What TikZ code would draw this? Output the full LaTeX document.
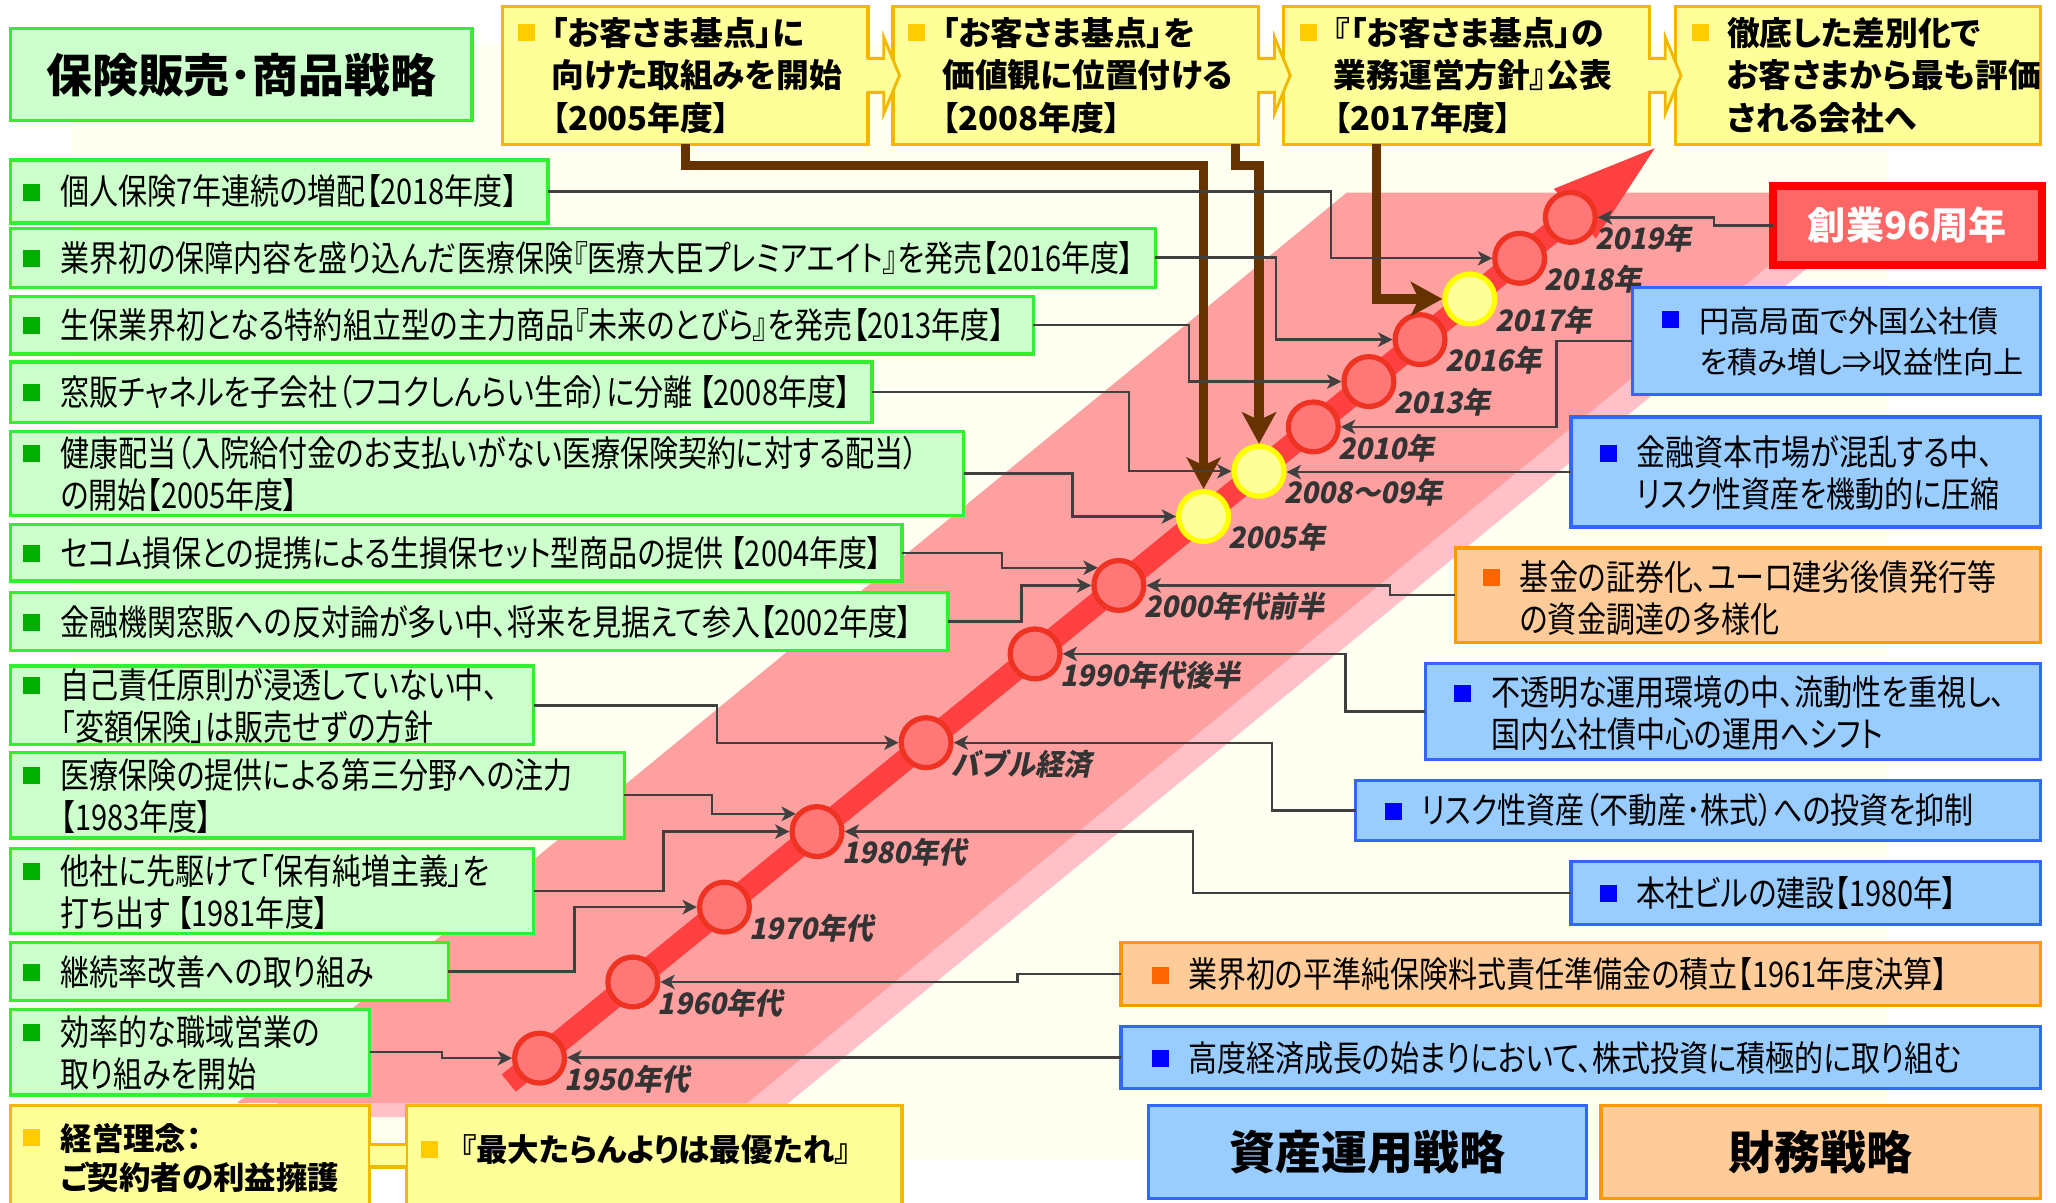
\documentclass[tikz,border=0pt]{standalone}
\usepackage{fontspec}
\usetikzlibrary{arrows.meta}
\newfontfamily\jp[FakeStretch=0.82,RawFeature=+palt]{Noto Sans CJK JP}
\newfontfamily\jpw[RawFeature=+palt]{Noto Sans CJK JP}
\newfontfamily\jpyr[FakeStretch=0.95,FakeSlant=0.2]{Noto Sans CJK JP}
\definecolor{gfill}{HTML}{CCFFCC}
\definecolor{gline}{HTML}{33EE33}
\definecolor{gbul}{HTML}{00B000}
\definecolor{yfill}{HTML}{FFFF99}
\definecolor{yline}{HTML}{F2B800}
\definecolor{ybul}{HTML}{FFCC00}
\definecolor{bfill}{HTML}{99CCFF}
\definecolor{bline}{HTML}{3366FF}
\definecolor{bbul}{HTML}{0000FF}
\definecolor{ofill}{HTML}{FFCC99}
\definecolor{oline}{HTML}{FF9900}
\definecolor{obul}{HTML}{FF6600}
\definecolor{rfill}{HTML}{FF6666}
\definecolor{rline}{HTML}{FF0000}
\definecolor{cgray}{HTML}{404040}
\definecolor{brownc}{HTML}{663300}
\definecolor{dotfill}{HTML}{FF7777}
\definecolor{dotline}{HTML}{EE3322}
\definecolor{ydotline}{HTML}{FFFF00}
\definecolor{arrowred}{HTML}{FF4040}
\definecolor{banddark}{HTML}{FFA0A0}
\definecolor{bandlight}{HTML}{FFC0C8}
\definecolor{cream}{HTML}{FFFFF2}
\definecolor{yrc}{HTML}{333333}
\newcommand\bul[1]{\textcolor{#1}{\rule[3.2pt]{13pt}{13pt}}}
\newcommand\mkbox[7]{\node[#1, minimum width={#5-#3}, minimum height={#6-#4}] (#2) at (#3,#4) {#7};}
\begin{document}
\begin{tikzpicture}[x=1pt,y=-1pt,
  panel/.style={draw, line width=2.5pt, inner sep=0pt, outer sep=0pt, anchor=north west},
  gbox/.style={panel, fill=gfill, draw=gline},
  ybox/.style={panel, fill=yfill, draw=yline},
  bbox/.style={panel, fill=bfill, draw=bline},
  obox/.style={panel, fill=ofill, draw=oline},
  rbox/.style={panel, fill=rfill, draw=rline, line width=6pt, text=white, font=\jpw\bfseries\fontsize{29}{29}\selectfont},
  ttl/.style={font=\jpw\bfseries\fontsize{35}{35}\selectfont, text=black},
  txt/.style={inner sep=0pt, anchor=base west, font=\jp\fontsize{27}{31}\selectfont},
  rtxt/.style={inner sep=0pt, anchor=base west, font=\jp\fontsize{27}{30}\selectfont},
  wtxt/.style={inner sep=0pt, anchor=base west, font=\jpw\fontsize{23}{31}\selectfont},
  ytxt/.style={inner sep=0pt, anchor=base west, font=\jpw\bfseries\fontsize{25}{32.5}\selectfont},
  ktxt/.style={inner sep=0pt, anchor=base west, font=\jpw\bfseries\fontsize{24}{30}\selectfont},
  conn/.style={draw=cgray, line width=1.8pt, -{Stealth[length=11pt,width=11pt,inset=3pt]}},
  brn/.style={draw=brownc, line width=7pt, -{Stealth[length=24pt,width=26pt,inset=6pt]}},
  dot/.style={circle, minimum size=38pt, inner sep=0pt, line width=4pt, draw=dotline, fill=dotfill},
  ydot/.style={dot, draw=ydotline, fill=yfill},
  yr/.style={anchor=west, inner sep=0pt, text=yrc, font=\jpyr\bfseries\fontsize{22.5}{22.5}\selectfont}
]
\useasboundingbox (0,0) rectangle (1568,917);
\clip (0,0) rectangle (1568,917);
\fill[white] (0,0) rectangle (1568,917);
\fill[cream] (55,33) rectangle (1440,885);
% band
\fill[bandlight] (1045,158) -- (1435,158) -- (588,852) -- (199,852) -- cycle;
\fill[banddark] (1027,147) -- (1417,147) -- (570,841) -- (181,841) -- cycle;
% timeline arrow
\coordinate (tstart) at (388,826);
\coordinate (tbase) at (1201,163);
\coordinate (ttip) at (1262,113);
\draw[arrowred, line width=17pt] (tstart) -- (tbase);
\fill[arrowred] (ttip) -- (1185,144) -- (1217,182) -- cycle;
% circles
\node[dot] (c1950) at (411.5,807) {};
\node[dot] (c1960) at (482.6,748.9) {};
\node[dot] (c1970) at (552.5,691.8) {};
\node[dot] (c1980) at (623.1,634.2) {};
\node[dot] (cbub) at (706.3,566.4) {};
\node[dot] (c1990) at (789.4,498.7) {};
\node[dot] (c2000) at (853.3,446.5) {};
\node[ydot] (c2005) at (917.9,393.9) {};
\node[ydot] (c2008) at (960.2,359.4) {};
\node[dot] (c2010) at (1001.6,325.6) {};
\node[dot] (c2013) at (1044,291) {};
\node[dot] (c2016) at (1083,259) {};
\node[ydot] (c2017) at (1121,228) {};
\node[dot] (c2018) at (1159,197) {};
\node[dot] (c2019) at (1197.6,165.8) {};
% year labels
\node[yr] (l1950) at ([shift={(19,16)}]c1950.center) {1950年代};
\node[yr] (l1960) at ([shift={(19,16)}]c1960.center) {1960年代};
\node[yr] (l1970) at ([shift={(19,16)}]c1970.center) {1970年代};
\node[yr] (l1980) at ([shift={(19,16)}]c1980.center) {1980年代};
\node[yr] (lbub) at ([shift={(19,16)}]cbub.center) {バブル経済};
\node[yr] (l1990) at ([shift={(19,16)}]c1990.center) {1990年代後半};
\node[yr] (l2000) at ([shift={(19,16)}]c2000.center) {2000年代前半};
\node[yr] (l2005) at ([shift={(19,16)}]c2005.center) {2005年};
\node[yr] (l2008) at ([shift={(19,16)}]c2008.center) {2008～09年};
\node[yr] (l2010) at ([shift={(19,16)}]c2010.center) {2010年};
\node[yr] (l2013) at ([shift={(19,16)}]c2013.center) {2013年};
\node[yr] (l2016) at ([shift={(19,16)}]c2016.center) {2016年};
\node[yr] (l2017) at ([shift={(19,16)}]c2017.center) {2017年};
\node[yr] (l2018) at ([shift={(19,16)}]c2018.center) {2018年};
\node[yr] (l2019) at ([shift={(19,16)}]c2019.center) {2019年};
% title boxes
\mkbox{gbox,ttl}{title}{8}{22}{360}{92}{保険販売･商品戦略}
\mkbox{bbox,ttl}{asset}{876}{843}{1210}{914}{資産運用戦略}
\mkbox{obox,ttl}{fin}{1221}{843}{1556}{914}{財務戦略}
\mkbox{rbox}{red}{1352}{142}{1557}{202}{創業96周年}
% top yellow boxes
\mkbox{ybox}{y1}{383}{5}{662}{110}{}
\mkbox{ybox}{y2}{681}{5}{960}{110}{}
\mkbox{ybox}{y3}{979}{5}{1258}{110}{}
\mkbox{ybox}{y4}{1278}{5}{1556}{110}{}
\foreach \b in {y1,y2,y3}{
  \fill[yfill] ([xshift=-2pt]\b.east) ++(0,-13) -- ++(14,0) -- ++(0,-16) -- ++(12,29) -- ++(-12,29) -- ++(0,-16) -- ++(-14,0) -- cycle;
  \draw[yline, line width=2.2pt] ([xshift=-1pt]\b.east) ++(0,-13) -- ++(13,0) -- ++(0,-16) -- ++(12,29) -- ++(-12,29) -- ++(0,-16) -- ++(-13,0);
}
\node[ytxt] (y1t) at (394.5,34.5) {\bul{ybul}\hspace{13pt}\begin{tabular}[t]{@{}l@{}}「お客さま基点」に\\向けた取組みを開始\\【2005年度】\end{tabular}};
\node[ytxt] (y2t) at (692.5,34.5) {\bul{ybul}\hspace{13pt}\begin{tabular}[t]{@{}l@{}}「お客さま基点」を\\価値観に位置付ける\\【2008年度】\end{tabular}};
\node[ytxt] (y3t) at (991,34.5) {\bul{ybul}\hspace{13pt}\begin{tabular}[t]{@{}l@{}}『「お客さま基点」の\\業務運営方針』公表\\【2017年度】\end{tabular}};
\node[ytxt] (y4t) at (1290,34.5) {\bul{ybul}\hspace{14pt}\begin{tabular}[t]{@{}l@{}}徹底した差別化で\\お客さまから最も評価\\される会社へ\end{tabular}};
% green boxes
\mkbox{gbox}{g1}{8}{122}{418}{170}{}
\mkbox{gbox}{g2}{8}{174}{881}{219}{}
\mkbox{gbox}{g3}{8}{226}{788}{270}{}
\mkbox{gbox}{g4}{8}{276}{665}{322}{}
\mkbox{gbox}{g5}{8}{329}{735}{393}{}
\mkbox{gbox}{g6}{8}{400}{688}{443}{}
\mkbox{gbox}{g7}{8}{452}{723}{496}{}
\mkbox{gbox}{g8}{8}{508}{407}{568}{}
\mkbox{gbox}{g9}{8}{574}{476}{639}{}
\mkbox{gbox}{g10}{8}{647}{407}{712}{}
\mkbox{gbox}{g11}{8}{719}{342}{763}{}
\mkbox{gbox}{g12}{8}{770}{282}{835}{}
\node[txt] (g1t) at (17,156.3) {\bul{gbul}\hspace{16pt}個人保険7年連続の増配【2018年度】};
\node[txt] (g2t) at (17,206.8) {\bul{gbul}\hspace{16pt}業界初の保障内容を盛り込んだ医療保険『医療大臣プレミアエイト』を発売【2016年度】};
\node[txt] (g3t) at (17,258.3) {\bul{gbul}\hspace{16pt}生保業界初となる特約組立型の主力商品『未来のとびら』を発売【2013年度】};
\node[txt] (g4t) at (17,309.3) {\bul{gbul}\hspace{16pt}窓販チャネルを子会社（フコクしんらい生命）に分離 【2008年度】};
\node[txt] (g5t) at (17,355.8) {\bul{gbul}\hspace{16pt}\begin{tabular}[t]{@{}l@{}}健康配当（入院給付金のお支払いがない医療保険契約に対する配当）\\の開始【2005年度】\end{tabular}};
\node[txt] (g6t) at (17,431.8) {\bul{gbul}\hspace{16pt}セコム損保との提携による生損保セット型商品の提供 【2004年度】};
\node[txt] (g7t) at (17,484.3) {\bul{gbul}\hspace{16pt}金融機関窓販への反対論が多い中、将来を見据えて参入【2002年度】};
\node[txt] (g8t) at (17,532.8) {\bul{gbul}\hspace{16pt}\begin{tabular}[t]{@{}l@{}}自己責任原則が浸透していない中、\\「変額保険」は販売せずの方針\end{tabular}};
\node[txt] (g9t) at (17,601.3) {\bul{gbul}\hspace{16pt}\begin{tabular}[t]{@{}l@{}}医療保険の提供による第三分野への注力\\【1983年度】\end{tabular}};
\node[txt] (g10t) at (17,674.3) {\bul{gbul}\hspace{16pt}\begin{tabular}[t]{@{}l@{}}他社に先駆けて「保有純増主義」を\\打ち出す 【1981年度】\end{tabular}};
\node[txt] (g11t) at (17,751.3) {\bul{gbul}\hspace{16pt}継続率改善への取り組み};
\node[txt] (g12t) at (17,797.3) {\bul{gbul}\hspace{16pt}\begin{tabular}[t]{@{}l@{}}効率的な職域営業の\\取り組みを開始\end{tabular}};
% right boxes
\mkbox{bbox}{b1}{1245}{219}{1556}{301}{}
\mkbox{bbox}{b2}{1198}{318}{1556}{402}{}
\mkbox{obox}{o1}{1110}{418}{1556}{490}{}
\mkbox{bbox}{b3}{1087}{506}{1556}{579}{}
\mkbox{bbox}{b4}{1034}{595}{1556}{641}{}
\mkbox{bbox}{b5}{1198}{657}{1556}{705}{}
\mkbox{obox}{o2}{855}{719}{1556}{767}{}
\mkbox{bbox}{b6}{855}{783}{1556}{830}{}
\node[wtxt] (b1t) at (1267,253.7) {\bul{bbul}\hspace{16pt}\begin{tabular}[t]{@{}l@{}}円高局面で外国公社債\\を積み増し⇒収益性向上\end{tabular}};
\node[rtxt] (b2t) at (1220,355.3) {\bul{bbul}\hspace{15pt}\begin{tabular}[t]{@{}l@{}}金融資本市場が混乱する中、\\リスク性資産を機動的に圧縮\end{tabular}};
\node[rtxt] (o1t) at (1131,450.3) {\bul{obul}\hspace{15pt}\begin{tabular}[t]{@{}l@{}}基金の証券化、ユーロ建劣後債発行等\\の資金調達の多様化\end{tabular}};
\node[rtxt] (b3t) at (1109,538.3) {\bul{bbul}\hspace{15pt}\begin{tabular}[t]{@{}l@{}}不透明な運用環境の中、流動性を重視し、\\国内公社債中心の運用へシフト\end{tabular}};
\node[rtxt] (b4t) at (1056,628.3) {\bul{bbul}\hspace{15pt}リスク性資産（不動産･株式）への投資を抑制};
\node[rtxt] (b5t) at (1220,691.3) {\bul{bbul}\hspace{15pt}本社ビルの建設【1980年】};
\node[rtxt] (o2t) at (878,753.3) {\bul{obul}\hspace{15pt}業界初の平準純保険料式責任準備金の積立【1961年度決算】};
\node[rtxt] (b6t) at (878,816.8) {\bul{bbul}\hspace{15pt}高度経済成長の始まりにおいて、株式投資に積極的に取り組む};
% bottom yellow boxes
\mkbox{ybox}{yk}{8}{843}{282}{925}{}
\mkbox{ybox}{ym}{310}{843}{688}{925}{}
\fill[yfill] ([yshift=11pt]yk.east) rectangle ([yshift=-6pt]ym.west);
\draw[yline, line width=2.5pt] ([yshift=11pt]yk.east) -- ([yshift=11pt]ym.west);
\draw[yline, line width=2.5pt] ([yshift=-6pt]yk.east) -- ([yshift=-6pt]ym.west);
\node[ktxt] (ykt) at (17,877.1) {\bul{ybul}\hspace{16pt}\begin{tabular}[t]{@{}l@{}}経営理念：\\ご契約者の利益擁護\end{tabular}};
\node[ktxt] (ymt) at (321,886.1) {\bul{ybul}\hspace{17pt}『最大たらんよりは最優たれ』};
% brown connectors
\draw[brn] (y1.south) -- ++(0,16) -| (c2005.north);
\draw[brn] ([xshift=122pt]y2.south) -- ++(0,16) -| (c2008.north);
\draw[brn] ([xshift=-68.5pt]y3.south) |- (c2017.west);
% gray connectors (left)
\draw[conn] (g1.east) -- ++(597,0) |- (c2018.west);
\draw[conn] (g2.east) -- ++(92,0) |- (c2016.west);
\draw[conn] (g3.east) -- ++(119,0) |- (c2013.west);
\draw[conn] (g4.east) -- ++(196,0) |- (c2008.west);
\draw[conn] (g5.east) -- ++(83,0) |- (c2005.west);
\draw[conn] (g6.east) -- ++(76,0) |- (c2000.140);
\draw[conn] (g7.east) -- ++(56,0) |- (c2000.west);
\draw[conn] (g8.east) -- ++(140,0) |- (cbub.west);
\draw[conn] (g9.east) -- ++(67,0) |- (c1980.140);
\draw[conn] (g10.east) -- ++(99,0) |- (c1980.west);
\draw[conn] (g11.east) -- ++(96,0) |- (c1970.west);
\draw[conn] (g12.east) -- ++(55,0) |- (c1950.west);
% gray connectors (right)
\draw[conn] (red.west) -- ++(-45,0) |- (c2019.east);
\draw[conn] (b1.west) -- ++(-58,0) |- (c2010.east);
\draw[conn] (b2.west) -- (b2.west -| c2008.east);
\draw[conn] (o1.west) -- ++(-50,0) |- (c2000.east);
\draw[conn] (b3.west) -- ++(-61,0) |- (c1990.east);
\draw[conn] (b4.west) -- ++(-64,0) |- (cbub.east);
\draw[conn] (b5.west) -- ++(-288,0) |- (c1980.east);
\draw[conn] (o2.west) -- ++(-79,0) |- (c1960.east);
\draw[conn] (b6.west) -- (b6.west -| c1950.east);
\end{tikzpicture}
\end{document}
